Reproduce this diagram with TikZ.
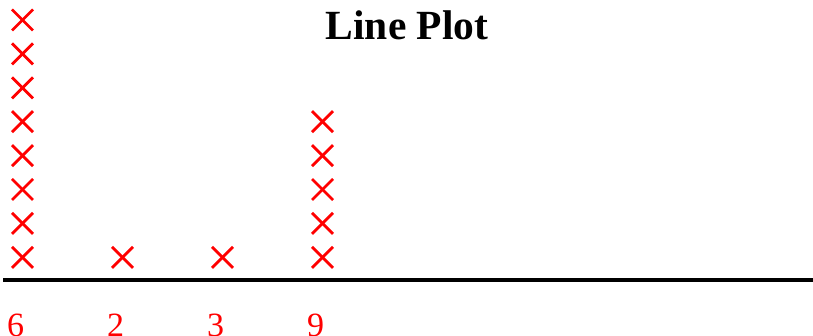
\documentclass[tikz,border=0pt]{standalone}
\usepackage{fontspec}
\setmainfont{Liberation Serif}
\begin{document}
\begin{tikzpicture}[x=1pt,y=-1pt,
  mk/.style={draw=red,line width=2.8pt,line cap=butt},
  lbl/.style={text=red,font=\fontsize{34}{34}\selectfont,anchor=base west,inner sep=0pt},
  ttl/.style={font=\fontsize{41.5}{41.5}\selectfont\bfseries,anchor=base,inner sep=0pt}]
\useasboundingbox (0,0) rectangle (813,336);
\node[ttl] (title) at (407,40) {Line Plot};
\coordinate (axl) at (3,280);
\coordinate (axr) at (813,280);
\draw[line width=4.2pt] (axl) -- (axr);
\newcommand\crossmark[2]{%
  \draw[mk] (#1-10.5,#2-10.5) -- (#1+10.5,#2+10.5);
  \draw[mk] (#1-10.5,#2+10.5) -- (#1+10.5,#2-10.5);}
\foreach \k in {0,...,7}{\crossmark{22.5}{257.3-33.9*\k}}
\crossmark{122.5}{257.3}
\crossmark{222.5}{257.3}
\foreach \k in {0,...,4}{\crossmark{322.5}{257.3-33.9*\k}}
\node[lbl] (l6) at (7,336) {6};
\node[lbl] (l2) at (107,336) {2};
\node[lbl] (l3) at (207,336) {3};
\node[lbl] (l9) at (307,336) {9};
\end{tikzpicture}
\end{document}
